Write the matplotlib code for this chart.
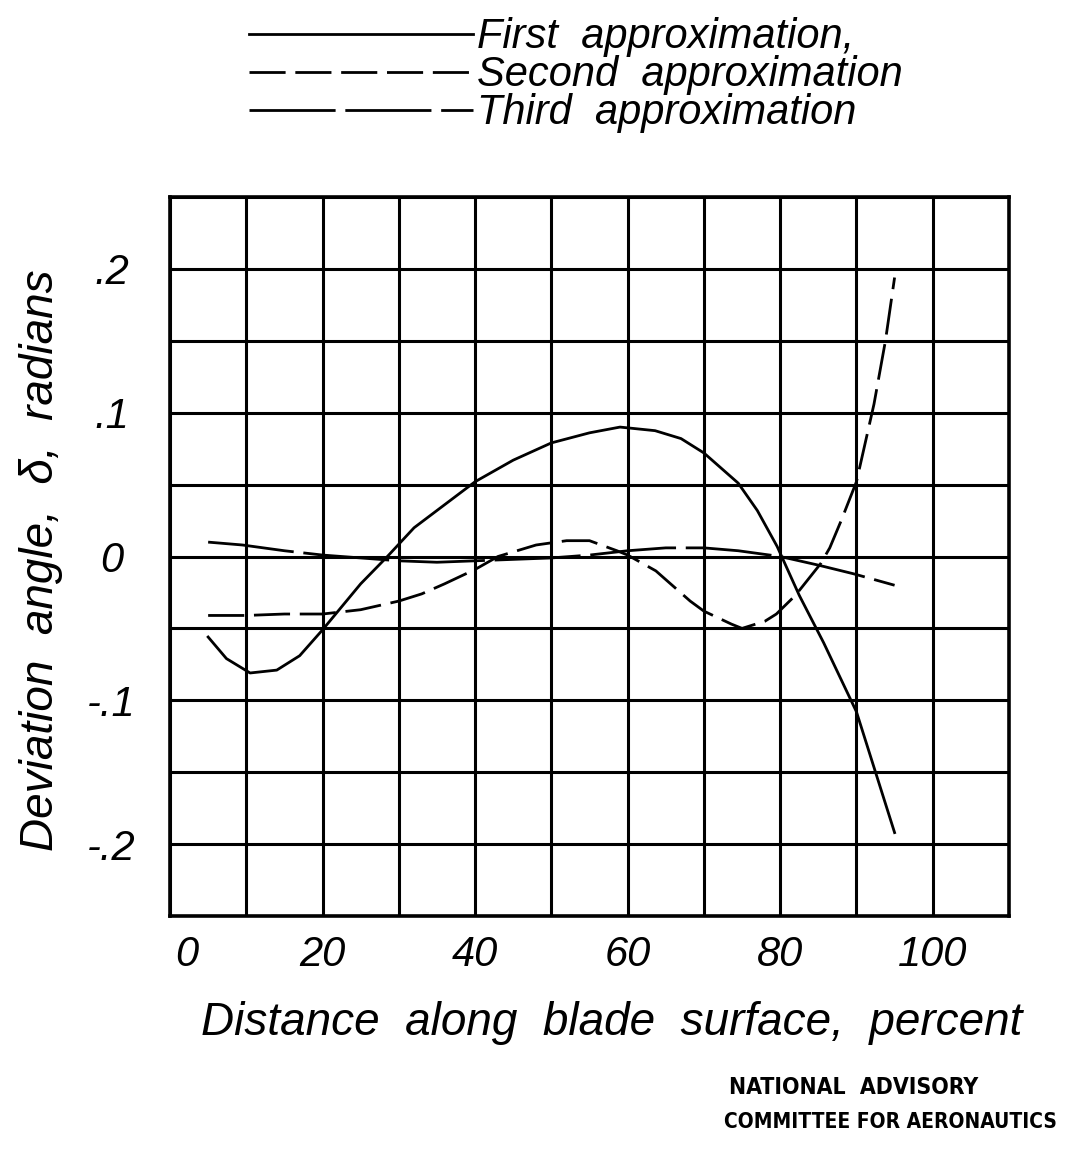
import numpy as np
import matplotlib
matplotlib.use("Agg")
import matplotlib.pyplot as plt
from matplotlib.lines import Line2D
from matplotlib.transforms import ScaledTranslation

# ---------------- data ----------------
first_x = [5, 7.4, 10.5, 14, 17, 20, 25, 28.5, 32, 36, 40, 45, 50, 55, 59, 63.6, 67, 70, 74.5, 77, 79.6, 82.5, 85.7, 90, 92.5, 95]
first_y = [-0.056, -0.071, -0.081, -0.079, -0.069, -0.051, -0.019, 0.0, 0.020, 0.036, 0.052, 0.067, 0.079, 0.086, 0.090, 0.0875, 0.082, 0.072, 0.051, 0.032, 0.007, -0.027, -0.060, -0.108, -0.150, -0.192]

second_x = [5, 10, 15, 20, 25, 30, 33, 36, 40, 43, 48, 52, 55, 58.6, 60, 63.7, 68.2, 70, 73.6, 75, 78, 79.5, 82, 85.3, 86.5, 88, 90, 92.3, 93.8, 95]
second_y = [-0.041, -0.041, -0.040, -0.040, -0.037, -0.031, -0.026, -0.019, -0.009, 0.0, 0.008, 0.011, 0.011, 0.004, 0.001, -0.010, -0.031, -0.038, -0.047, -0.050, -0.045, -0.040, -0.027, -0.005, 0.006, 0.025, 0.052, 0.106, 0.150, 0.194]

third_x = [5, 9.5, 15, 20, 25, 30, 35, 40, 45, 50, 55, 60, 65, 70, 74.5, 80, 85, 89.6, 95]
third_y = [0.010, 0.008, 0.004, 0.001, -0.001, -0.003, -0.004, -0.003, -0.002, -0.001, 0.001, 0.004, 0.006, 0.006, 0.004, 0.000, -0.006, -0.012, -0.020]

series_labels = ["First  approximation,", "Second  approximation", "Third  approximation"]
x_ticks = [0, 20, 40, 60, 80, 100]
x_ticklabels = ["0", "20", "40", "60", "80", "100"]
y_ticks = [-0.2, -0.1, 0.0, 0.1, 0.2]
y_ticklabels = ["-.2", "-.1", "0", ".1", ".2"]

# ---------------- style ----------------
plt.rcParams['lines.scale_dashes'] = False
LET = dict(family=['Liberation Sans', 'DejaVu Sans'], style='italic')
styles = [dict(ls='-'), dict(dashes=(26, 7)), dict(dashes=(62, 7))]

W, H, DPI = 1069, 1149, 100
fig = plt.figure(figsize=(W / DPI, H / DPI), dpi=DPI)
ax = fig.add_axes([170 / W, 1 - 916 / H, 839 / W, 719 / H])

for xs, ys, st in zip([first_x, second_x, third_x], [first_y, second_y, third_y], styles):
    ax.plot(xs, ys, color='black', lw=2.0, **st)

ax.set_xlim(0, 110)
ax.set_ylim(-0.25, 0.25)
ax.set_xticks(x_ticks)
ax.set_xticklabels(x_ticklabels, fontsize=30, **LET)
ax.set_xticks(np.arange(0, 111, 10), minor=True)
ax.set_yticks(y_ticks)
ax.set_yticklabels(y_ticklabels, fontsize=30, **LET)
ax.set_yticks(np.arange(-0.25, 0.2501, 0.05), minor=True)
ax.tick_params(which='both', length=0)
ax.tick_params(axis='x', pad=14)
ax.tick_params(axis='y', pad=42)
for lab in ax.get_yticklabels():
    lab.set_horizontalalignment('center')
ax.grid(True, which='both', color='black', lw=2.2)
for s in ax.spines.values():
    s.set_linewidth(2.6)

lab0 = ax.get_xticklabels()[0]
lab0.set_transform(lab0.get_transform() + ScaledTranslation(0.17, 0, fig.dpi_scale_trans))

ax.set_xlabel("Distance  along  blade  surface,  percent", fontsize=33, **LET)
ax.xaxis.set_label_coords(0.527, -0.118)
ax.set_ylabel("Deviation  angle,  δ,  radians", fontsize=33, **LET)
ax.yaxis.set_label_coords(-0.128, 0.495)

# legend drawn at top (same line styles as the curves)
for i, (lbl, st) in enumerate(zip(series_labels, styles)):
    yl = [34, 72, 110][i]
    fig.add_artist(Line2D([249 / W, 473 / W], [1 - yl / H, 1 - yl / H], transform=fig.transFigure,
                          color='black', lw=2.0, **st))
    fig.text(477 / W, 1 - (yl + 14) / H, lbl, fontsize=30, ha='left', va='baseline', **LET)

fig.text(854 / W, 1 - 1087 / H, "NATIONAL  ADVISORY", fontsize=16.5, fontweight='bold',
         family='DejaVu Sans', stretch='condensed', ha='center', va='center')
fig.text(890 / W, 1 - 1122 / H, "COMMITTEE FOR AERONAUTICS", fontsize=15, fontweight='bold',
         family='DejaVu Sans', stretch='condensed', ha='center', va='center')

fig.savefig("out.png", dpi=DPI)
